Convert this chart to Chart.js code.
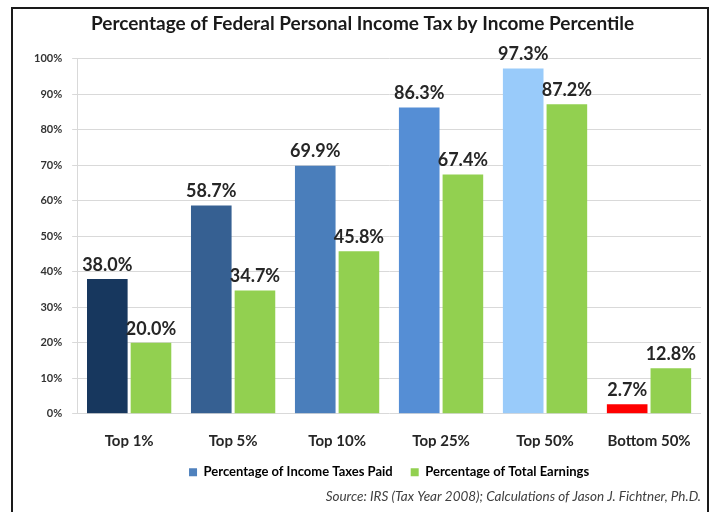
<!DOCTYPE html>
<html>
<head>
<meta charset="utf-8">
<script src="https://cdn.jsdelivr.net/npm/chart.js@4.4.1/dist/chart.umd.min.js"></script>
<style>
  html, body { margin: 0; padding: 0; background: #fff; }
  #wrap { width: 713px; height: 512px; }
</style>
</head>
<body>
<div id="wrap"><canvas id="chartImposto" width="713" height="512"></canvas></div>
<script>
// dados
const categorias = ['Top 1%', 'Top 5%', 'Top 10%', 'Top 25%', 'Top 50%', 'Bottom 50%'];
const impostosPagos = [38.0, 58.7, 69.9, 86.3, 97.3, 2.7];
const rendaTotal = [20.0, 34.7, 45.8, 67.4, 87.2, 12.8];
const yTicks = [0, 10, 20, 30, 40, 50, 60, 70, 80, 90, 100];

const coresImpostos = ['#17375E', '#366092', '#4A7EBB', '#558ED5', '#99CBFA', '#FF0000'];
const corRenda = '#92D050';
const fonte = 'Lato, "Liberation Sans", sans-serif';

// fundo branco e moldura escura
const moldura = {
    id: 'moldura',
    beforeDraw(chart) {
        const ctx = chart.ctx;
        ctx.save();
        ctx.fillStyle = '#fff';
        ctx.fillRect(0, 0, chart.width, chart.height);
        ctx.strokeStyle = '#1a1a1a';
        ctx.lineWidth = 2;
        ctx.beginPath();
        ctx.moveTo(12, chart.height + 5);
        ctx.lineTo(12, 8);
        ctx.lineTo(708, 8);
        ctx.lineTo(708, chart.height + 5);
        ctx.stroke();
        ctx.restore();
    }
};

// rotulos de valor em cima das barras
const rotulos = {
    id: 'rotulos',
    afterDatasetsDraw(chart) {
        const ctx = chart.ctx;
        ctx.save();
        ctx.font = 'bold 18px ' + fonte;
        ctx.fillStyle = '#262626';
        ctx.textAlign = 'center';
        ctx.textBaseline = 'bottom';
        chart.data.datasets.forEach((ds, i) => {
            chart.getDatasetMeta(i).data.forEach((bar, j) => {
                ctx.fillText(ds.data[j].toFixed(1) + '%', bar.x, bar.y - 5);
            });
        });
        ctx.restore();
    }
};

new Chart(document.getElementById('chartImposto').getContext('2d'), {
    type: 'bar',
    data: {
        labels: categorias,
        datasets: [
            {
                label: 'Percentage of Income Taxes Paid',
                data: impostosPagos,
                backgroundColor: coresImpostos,
                legendColor: '#4F81BD',
                categoryPercentage: 0.84,
                barPercentage: 0.93
            },
            {
                label: 'Percentage of Total Earnings',
                data: rendaTotal,
                backgroundColor: corRenda,
                legendColor: corRenda,
                categoryPercentage: 0.84,
                barPercentage: 0.93
            }
        ]
    },
    options: {
        responsive: false,
        animation: false,
        layout: { padding: { left: 24, right: 12, top: 0, bottom: 3 } },
        scales: {
            x: {
                grid: { display: false },
                border: { display: false },
                afterFit(scale) { scale.height -= 12; },
                ticks: {
                    color: '#262626',
                    padding: 10,
                    font: { family: fonte, size: 15, weight: 'bold' }
                }
            },
            y: {
                min: 0,
                max: 100,
                afterBuildTicks(axis) {
                    axis.ticks = yTicks.map(v => ({ value: v }));
                },
                grid: { color: '#d9d9d9', tickLength: 5 },
                border: { display: true, color: '#d9d9d9' },
                ticks: {
                    color: '#333',
                    padding: 10,
                    font: { family: fonte, size: 11, weight: 'bold' },
                    callback: v => v + '%'
                }
            }
        },
        plugins: {
            title: {
                display: true,
                text: 'Percentage of Federal Personal Income Tax by Income Percentile',
                color: '#1a1a1a',
                font: { family: fonte, size: 19, weight: 'bold' },
                padding: { top: 12, bottom: 24 }
            },
            subtitle: {
                display: true,
                position: 'bottom',
                align: 'end',
                text: 'Source: IRS (Tax Year 2008); Calculations of Jason J. Fichtner, Ph.D.',
                color: '#404040',
                font: { family: fonte, size: 13.5, style: 'italic' },
                padding: { top: 0, bottom: 4 }
            },
            legend: {
                position: 'bottom',
                fullSize: false,
                labels: {
                    color: '#262626',
                    boxWidth: 8,
                    boxHeight: 8,
                    padding: 18,
                    font: { family: fonte, size: 13, weight: 'bold' },
                    generateLabels(chart) {
                        return chart.data.datasets.map((ds, i) => ({
                            text: ds.label,
                            fillStyle: ds.legendColor,
                            strokeStyle: ds.legendColor,
                            lineWidth: 0,
                            datasetIndex: i
                        }));
                    }
                }
            },
            tooltip: { enabled: false }
        }
    },
    plugins: [moldura, rotulos]
});
</script>
</body>
</html>
